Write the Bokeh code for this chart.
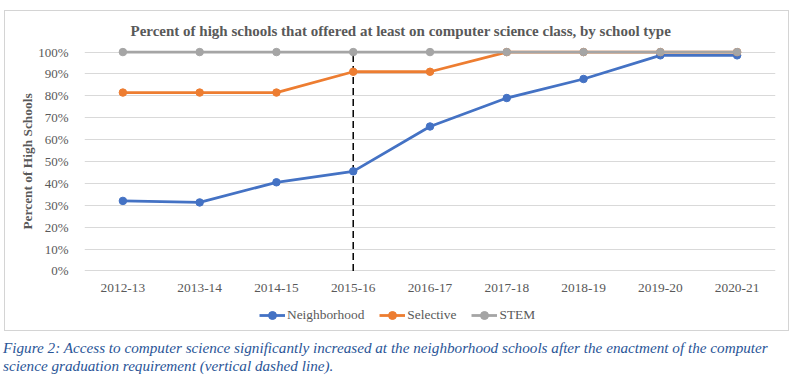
from bokeh.plotting import figure
from bokeh.models import FactorRange, Range1d, NumeralTickFormatter, FixedTicker, Legend, LegendItem, Div, Spacer
from bokeh.layouts import column, row
from bokeh.embed import file_html
from bokeh.resources import INLINE

years = ["2012-13", "2013-14", "2014-15", "2015-16", "2016-17", "2017-18", "2018-19", "2019-20", "2020-21"]
neighborhood = [0.32, 0.313, 0.405, 0.455, 0.66, 0.79, 0.877, 0.985, 0.985]
selective = [0.815, 0.815, 0.815, 0.91, 0.91, 1.0, 1.0, 1.0, 1.0]
stem = [1.0, 1.0, 1.0, 1.0, 1.0, 1.0, 1.0, 1.0, 1.0]
policy_year = "2015-16"
y_ticks = [0, 0.1, 0.2, 0.3, 0.4, 0.5, 0.6, 0.7, 0.8, 0.9, 1.0]
series_names = ["Neighborhood", "Selective", "STEM"]
series_colors = ["#4472c4", "#ed7d31", "#a5a5a5"]
caption_text = ("Figure 2: Access to computer science significantly increased at the neighborhood schools "
                "after the enactment of the computer<br>science graduation requirement (vertical dashed line).")

SERIF = "Liberation Serif"
GRAY = "#595959"
BORDER = "1px solid #d4d4d4"
W, ML, MR = 785, 79, 15
series_values = [neighborhood, selective, stem]

# ---- main chart ----
p = figure(x_range=FactorRange(*years), y_range=Range1d(-0.03, 1.03),
           width=W, height=284, output_backend="svg", toolbar_location=None,
           min_border_left=ML, min_border_right=MR, min_border_top=34, min_border_bottom=18)
p.styles = {"border-top": BORDER, "border-left": BORDER, "border-right": BORDER}
p.outline_line_color = None
p.title.text = "Percent of high schools that offered at least on computer science class, by school type"
p.title.align = "left"
p.title.offset = 46
p.title.standoff = 14
p.title.text_font = SERIF
p.title.text_font_size = "15px"
p.title.text_font_style = "bold"
p.title.text_color = GRAY

p.xgrid.grid_line_color = None
p.ygrid.grid_line_color = "#d9d9d9"
p.ygrid.ticker = FixedTicker(ticks=y_ticks)

p.yaxis.ticker = FixedTicker(ticks=y_ticks)
p.yaxis.formatter = NumeralTickFormatter(format="0%")
p.yaxis.axis_line_color = None
p.yaxis.major_tick_line_color = None
p.yaxis.minor_tick_line_color = None
p.yaxis.major_label_standoff = 10
p.yaxis.major_label_text_font = SERIF
p.yaxis.major_label_text_font_size = "13px"
p.yaxis.major_label_text_color = GRAY
p.yaxis.axis_label = "Percent of High Schools"
p.yaxis.axis_label_text_font = SERIF
p.yaxis.axis_label_text_font_size = "13.4px"
p.yaxis.axis_label_text_font_style = "bold"
p.yaxis.axis_label_text_color = GRAY
p.yaxis.axis_label_standoff = 0

p.xaxis.axis_line_color = None
p.xaxis.major_tick_line_color = None
p.xaxis.minor_tick_line_color = None
p.xaxis.major_label_standoff = 0
p.xaxis.major_label_text_font = SERIF
p.xaxis.major_label_text_font_size = "13.4px"
p.xaxis.major_label_text_color = GRAY

p.line([policy_year, policy_year], [0, 1.0], line_color="black", line_width=1.5, line_dash="7 4")

for vals, col in zip(series_values, series_colors):
    p.line(years, vals, line_color=col, line_width=2.8)
    p.scatter(years, vals, size=7.5, fill_color=col, line_color=col)

# ---- legend strip (same series, plotted out of view so only the legend shows) ----
lg = figure(width=W, height=37, output_backend="svg", toolbar_location=None,
            x_range=FactorRange(*years), y_range=Range1d(5, 6),
            x_axis_type=None, y_axis_type=None,
            min_border_left=ML, min_border_right=MR, min_border_top=0, min_border_bottom=0)
lg.styles = {"border-bottom": BORDER, "border-left": BORDER, "border-right": BORDER}
lg.outline_line_color = None
lg.grid.visible = False
items = []
for name, vals, col in zip(series_names, series_values, series_colors):
    l = lg.line(years, vals, line_color=col, line_width=2.8)
    c = lg.scatter(years, vals, size=7.5, fill_color=col, line_color=col)
    items.append(LegendItem(label=name, renderers=[l, c]))
legend = Legend(items=items, orientation="horizontal", location=(175, 6),
                label_text_font=SERIF, label_text_font_size="13.4px", label_text_color=GRAY,
                border_line_color=None, background_fill_alpha=0,
                glyph_width=26, glyph_height=20, spacing=15, label_standoff=2, padding=2, margin=0)
lg.add_layout(legend, "center")

# ---- caption ----
cp = Div(text=caption_text, width=790, height=47,
         styles={"font-family": "'Liberation Serif', serif", "font-style": "italic", "font-size": "15.2px",
                 "color": "#2a5597", "line-height": "18px", "margin-top": "8px", "margin-left": "-1px",
                 "white-space": "nowrap"})

layout = column(Spacer(height=10), row(Spacer(width=4), column(p, lg, spacing=0), spacing=0), row(Spacer(width=4), cp, spacing=0), spacing=0)
open("out.html", "w").write(file_html(layout, INLINE))
